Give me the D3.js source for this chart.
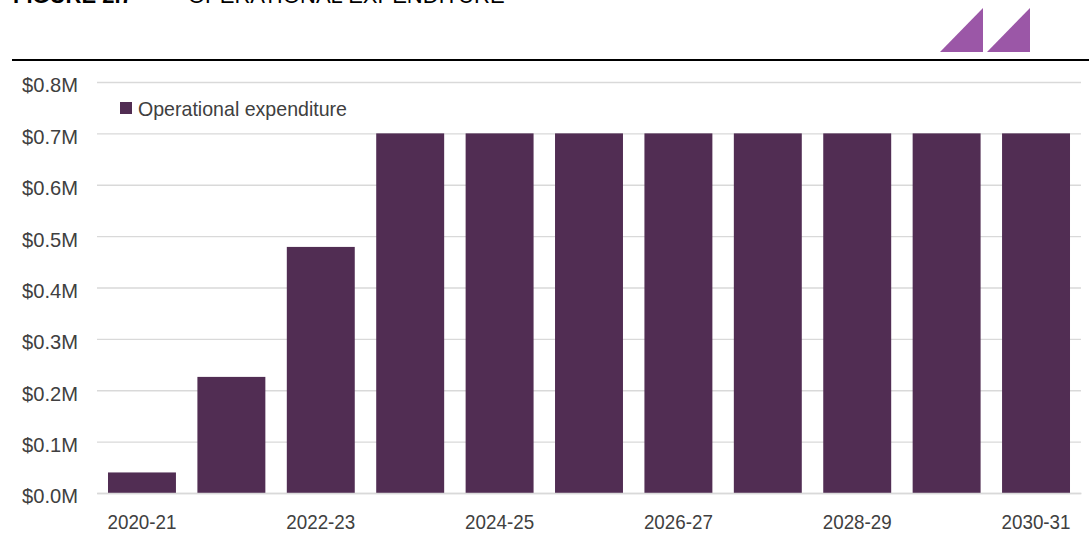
<!DOCTYPE html>
<html>
<head>
<meta charset="utf-8">
<script src="https://cdn.jsdelivr.net/npm/d3@7"></script>
<style>
  body { margin: 0; background: #fff; }
  svg { display: block; font-family: "Liberation Sans", Arial, sans-serif; }
</style>
</head>
<body>
<svg id="chart" width="1089" height="542"></svg>
<script>
const categories = ["2020-21", "2021-22", "2022-23", "2023-24", "2024-25", "2025-26",
  "2026-27", "2027-28", "2028-29", "2029-30", "2030-31"];
const opex = [0.04, 0.226, 0.479, 0.70, 0.70, 0.70, 0.70, 0.70, 0.70, 0.70, 0.70];
const yTicks = [0, 0.1, 0.2, 0.3, 0.4, 0.5, 0.6, 0.7, 0.8];
const xLabels = ["2020-21", "2022-23", "2024-25", "2026-27", "2028-29", "2030-31"];
const seriesName = "Operational expenditure";

const svg = d3.select("#chart");
const margin = { top: 82, right: 8, bottom: 49, left: 97 };
const width = 1089, height = 542;
const innerWidth = width - margin.left - margin.right;
const innerHeight = height - margin.top - margin.bottom;

// header: clipped figure title, rule and logo triangles
svg.append("text").attr("x", 13).attr("y", 3)
  .attr("font-size", 22).attr("font-weight", "bold").attr("fill", "#000")
  .text("FIGURE 2.7");
svg.append("text").attr("x", 188).attr("y", 3)
  .attr("font-size", 22).attr("fill", "#000")
  .text("OPERATIONAL EXPENDITURE");
svg.append("line").attr("x1", 12).attr("x2", width).attr("y1", 60).attr("y2", 60)
  .attr("stroke", "#000").attr("stroke-width", 2);
[[940, 983], [987, 1030]].forEach(([a, b]) => {
  svg.append("path").attr("d", `M${a},52L${b},52L${b},8Z`).attr("fill", "#9b57a7");
});

const g = svg.append("g").attr("transform", `translate(${margin.left},${margin.top})`);

const x = d3.scaleBand().domain(categories).range([0, innerWidth]).paddingInner(0.24).paddingOuter(0.123);
const y = d3.scaleLinear().domain([0, 0.8]).range([innerHeight, 0]);

// gridlines + y labels
const yAxis = g.append("g")
  .call(d3.axisLeft(y).tickValues(yTicks).tickSize(-innerWidth).tickPadding(19)
    .tickFormat(d => "$" + d3.format(".1f")(d) + "M"));
yAxis.select(".domain").remove();
yAxis.selectAll(".tick line").attr("stroke", "#d9d9d9").attr("stroke-width", 1.3);
yAxis.selectAll(".tick text").attr("font-size", 21).attr("fill", "#404040")
  .attr("dy", "0.47em")
  .attr("textLength", 56).attr("lengthAdjust", "spacingAndGlyphs")
  .attr("font-family", "Liberation Sans, Arial, sans-serif");

// bars
g.append("g").selectAll("rect")
  .data(opex)
  .join("rect")
  .attr("x", (d, i) => x(categories[i]))
  .attr("y", d => y(d))
  .attr("width", x.bandwidth())
  .attr("height", d => innerHeight - y(d))
  .attr("fill", "#512d53");

// x axis
const xAxis = g.append("g").attr("transform", `translate(0,${innerHeight})`)
  .call(d3.axisBottom(x).tickValues(xLabels).tickSize(0).tickPadding(21));
xAxis.select(".domain").attr("stroke", "#d9d9d9").attr("stroke-width", 1.3);
xAxis.selectAll(".tick text").attr("font-size", 21).attr("fill", "#404040")
  .attr("textLength", 69).attr("lengthAdjust", "spacingAndGlyphs")
  .attr("font-family", "Liberation Sans, Arial, sans-serif");

// legend
const legend = svg.append("g").attr("transform", "translate(120,102)");
legend.append("rect").attr("width", 12).attr("height", 12).attr("fill", "#512d53");
legend.append("text").attr("x", 18).attr("y", 14).attr("font-size", 21).attr("fill", "#404040")
  .attr("textLength", 209).attr("lengthAdjust", "spacingAndGlyphs")
  .text(seriesName);
</script>
</body>
</html>
